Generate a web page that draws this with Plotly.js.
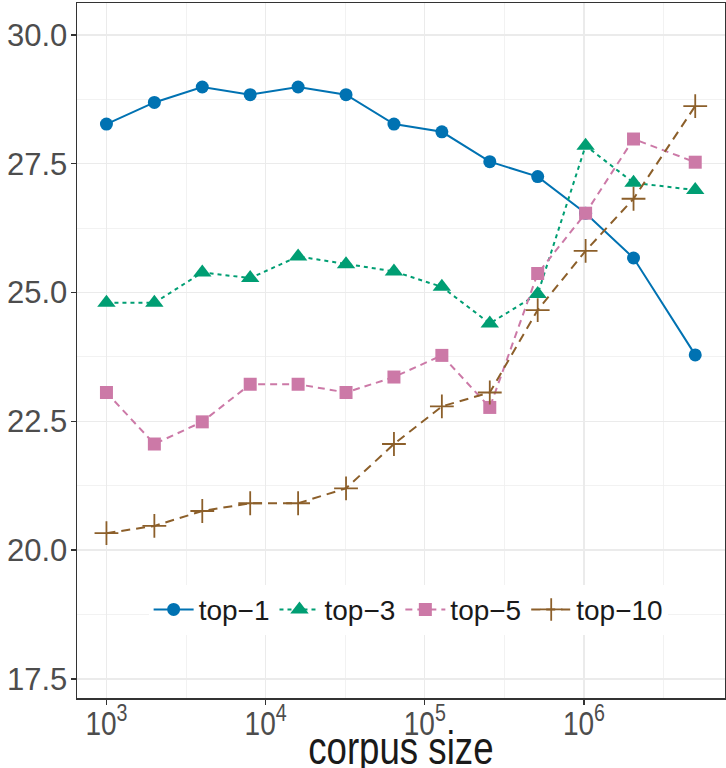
<!DOCTYPE html>
<html>
<head>
<meta charset="utf-8">
<script src="https://cdn.plot.ly/plotly-3.0.1.min.js"></script>
<style>
  html, body { margin: 0; padding: 0; background: #ffffff; }
  #chart { width: 726px; height: 768px; }
</style>
</head>
<body>
<div id="chart"></div>
<script>
// Data
const corpusSize = [1000, 2000, 4000, 8000, 16000, 32000, 64000, 128000, 256000, 512000, 1024000, 2048000, 5000000];
const top1  = [28.27, 28.69, 28.99, 28.84, 28.99, 28.84, 28.27, 28.12, 27.54, 27.25, 26.54, 25.67, 23.79];
const top3  = [24.80, 24.80, 25.39, 25.28, 25.70, 25.55, 25.41, 25.11, 24.40, 24.97, 27.85, 27.13, 26.99];
const top5  = [23.06, 22.06, 22.49, 23.22, 23.22, 23.06, 23.36, 23.78, 22.77, 25.37, 26.54, 27.98, 27.53];
const top10 = [20.33, 20.47, 20.76, 20.91, 20.91, 21.20, 22.06, 22.79, 23.06, 24.66, 25.81, 26.82, 28.62];
const seriesNames = ['top\u22121', 'top\u22123', 'top\u22125', 'top\u221210'];
const xTickVals = [1e3, 1e4, 1e5, 1e6];
const xTickText = ['10<sup>3</sup>', '10<sup>4</sup>', '10<sup>5</sup>', '10<sup>6</sup>'];
const yTickVals = [17.5, 20.0, 22.5, 25.0, 27.5, 30.0];
const yTickText = ['17.5', '20.0', '22.5', '25.0', '27.5', '30.0'];
const xTitle = 'corpus size';

const colors = ['#0072B2', '#009E73', '#CC79A7', '#8C5F2A'];
const dashes = ['solid', '4px,4px', '7px,5px', '9px,6px'];
const symbols = ['circle', 'triangle-up', 'square', 'cross-thin'];
const sizes = [13, 16, 13, 17];
const series = [top1, top3, top5, top10];

const traces = series.map((vals, i) => ({
  type: 'scatter',
  mode: 'lines+markers',
  name: seriesNames[i],
  x: corpusSize,
  y: vals,
  line: { color: colors[i], width: 2, dash: dashes[i] },
  marker: {
    symbol: symbols[i],
    size: sizes[i],
    color: colors[i],
    line: { color: colors[i], width: symbols[i] === 'cross-thin' ? 1.8 : 0 }
  }
}));

const sans = '"Liberation Sans", Arial, sans-serif';

const layout = {
  width: 726,
  height: 768,
  margin: { l: 77, r: 1, t: 3, b: 70 },
  paper_bgcolor: '#ffffff',
  plot_bgcolor: '#ffffff',
  showlegend: true,
  legend: {
    orientation: 'h',
    x: 0.511, xanchor: 'center',
    y: 0.127, yanchor: 'middle',
    bgcolor: '#ffffff',
    font: { family: sans, size: 28, color: '#1a1a1a' },
    itemwidth: 40,
    traceorder: 'normal'
  },
  xaxis: {
    type: 'log',
    range: [2.815, 6.886],
    tickvals: xTickVals,
    ticktext: xTickText,
    ticks: 'outside',
    ticklen: 5,
    tickwidth: 1.3,
    tickcolor: '#333333',
    tickfont: { family: sans, size: 33, color: '#4d4d4d' },
    ticklabelstandoff: -9,
    showgrid: true,
    gridcolor: '#ebebeb',
    gridwidth: 1.3,
    minor: { dtick: 0.5, tick0: 0, showgrid: true, gridcolor: '#efefef', gridwidth: 0.8, ticks: '' },
    showline: true,
    linecolor: '#333333',
    linewidth: 1.5,
    mirror: true,
    zeroline: false
  },
  yaxis: {
    range: [17.13, 30.62],
    tickvals: yTickVals,
    ticktext: yTickText,
    ticks: 'outside',
    ticklen: 5,
    tickwidth: 1.3,
    tickcolor: '#333333',
    tickfont: { family: sans, size: 31, color: '#4d4d4d' },
    ticklabelstandoff: -3,
    showgrid: true,
    gridcolor: '#ebebeb',
    gridwidth: 1.3,
    minor: { dtick: 1.25, tick0: 17.5, showgrid: true, gridcolor: '#efefef', gridwidth: 0.8, ticks: '' },
    showline: true,
    linecolor: '#333333',
    linewidth: 1.5,
    mirror: true,
    zeroline: false
  },
  annotations: [{
    text: xTitle,
    xref: 'paper', yref: 'paper',
    x: 0.5, y: -0.03,
    xanchor: 'center', yanchor: 'top',
    showarrow: false,
    font: { family: sans, size: 47, color: '#1a1a1a' }
  }]
};

function squeeze(el, s) {
  const bb = el.getBBox();
  const cx = bb.x + bb.width / 2;
  const t = el.getAttribute('transform') || '';
  el.setAttribute('transform', t + ' translate(' + cx + ',0) scale(' + s + ',1) translate(' + (-cx) + ',0)');
}

Plotly.newPlot('chart', traces, layout, { displayModeBar: false, staticPlot: true }).then(gd => {
  gd.querySelectorAll('.xtick text').forEach(el => squeeze(el, 0.85));
  gd.querySelectorAll('.annotation-text').forEach(el => squeeze(el, 0.78));
});
</script>
</body>
</html>
